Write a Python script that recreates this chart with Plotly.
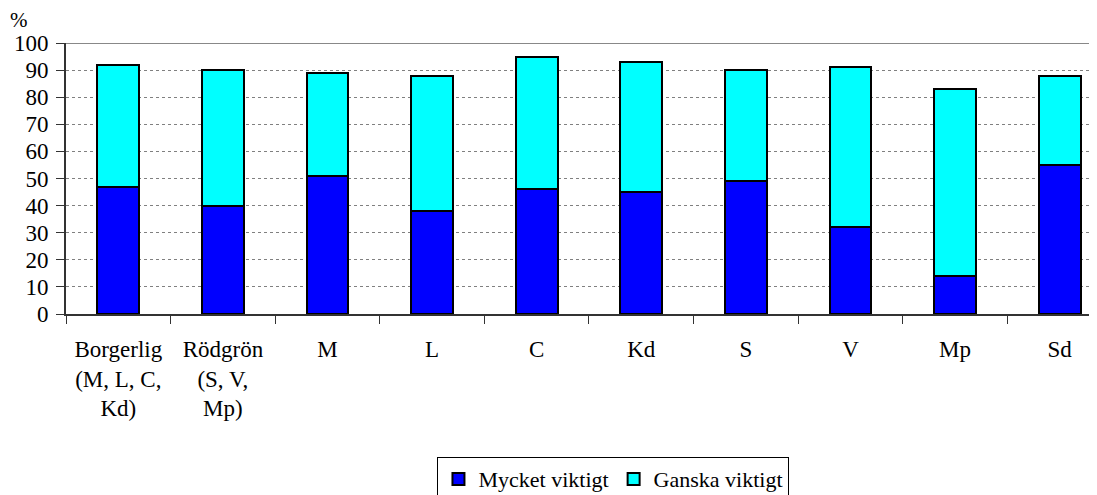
import plotly.graph_objects as go

categories = ["Borgerlig<br>(M, L, C,<br>Kd)", "Rödgrön<br>(S, V,<br>Mp)", "M", "L", "C", "Kd", "S", "V", "Mp", "Sd"]
mycket = [47, 40, 51, 38, 46, 45, 49, 32, 14, 55]
ganska = [45, 50, 38, 50, 49, 48, 41, 59, 69, 33]
yticks = [0, 10, 20, 30, 40, 50, 60, 70, 80, 90, 100]

FONT = "'Liberation Serif', 'Times New Roman', serif"
FS = 23

fig = go.Figure()
fig.add_trace(go.Bar(x=categories, y=mycket, name="Mycket viktigt",
                     marker=dict(color="#0000FF", line=dict(color="black", width=2)),
                     width=0.4))
fig.add_trace(go.Bar(x=categories, y=ganska, name="Ganska viktigt",
                     marker=dict(color="#00FFFF", line=dict(color="black", width=2)),
                     width=0.4))

fig.update_layout(
    barmode="stack",
    width=1089, height=487,
    margin=dict(l=58, r=0, t=35, b=181, autoexpand=False),
    paper_bgcolor="white", plot_bgcolor="white",
    font=dict(family=FONT, size=FS, color="black"),
    showlegend=True,
    legend=dict(orientation="h", x=0.531, xanchor="center", y=-0.528, yanchor="top",
                bordercolor="black", borderwidth=1, font=dict(size=22, family=FONT),
                itemwidth=30, traceorder="normal"),
    xaxis=dict(type="category", range=[-0.5, 9.357], showgrid=False, automargin=False,
               showline=True, linecolor="#333333", linewidth=2,
               ticks="outside", tickson="boundaries", ticklen=8, tickcolor="#333333",
               tickwidth=1, ticklabelstandoff=13, tickfont=dict(size=FS, family=FONT)),
    yaxis=dict(range=[0, 100], tickvals=yticks, showgrid=True, gridcolor="#808080",
               griddash="dot", gridwidth=1, zeroline=False, automargin=False,
               showline=True, linecolor="#333333", linewidth=2,
               ticks="outside", ticklen=8, tickcolor="#333333", tickwidth=1,
               ticklabelstandoff=3, tickfont=dict(size=FS, family=FONT)),
    shapes=[dict(type="line", xref="paper", yref="y", x0=0, x1=1, y0=100, y1=100,
                 line=dict(color="#888888", width=2), layer="below")],
    annotations=[dict(text="%", xref="paper", yref="paper", x=-0.046, y=1.085,
                      showarrow=False, font=dict(size=21, family=FONT),
                      xanchor="center", yanchor="middle")],
)

fig.write_html("out.html")
